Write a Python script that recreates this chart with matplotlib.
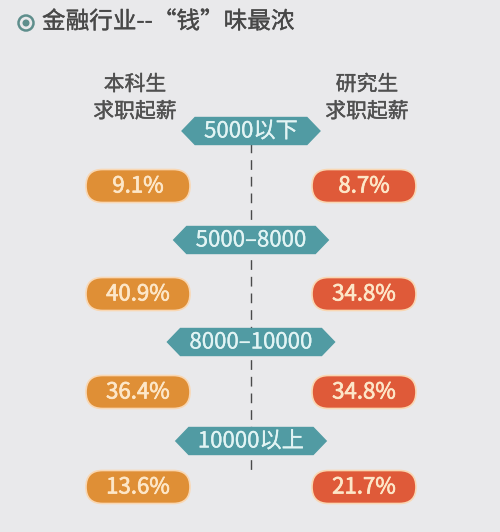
import numpy as np
import matplotlib
matplotlib.use("Agg")
import matplotlib.pyplot as plt
import matplotlib.patheffects as pe
from matplotlib.patches import FancyBboxPatch, Polygon, Circle

plt.rcParams['font.family'] = ['Noto Sans CJK SC', 'DejaVu Sans']

# data
title = "金融行业--“钱”味最浓"
left_header = "本科生\n求职起薪"
right_header = "研究生\n求职起薪"
ranges = ["5000以下", "5000–8000", "8000–10000", "10000以上"]
bachelor = [9.1, 40.9, 36.4, 13.6]
master = [8.7, 34.8, 34.8, 21.7]

# layout (pixels, y down)
W, H = 500, 532
tag_y = [131, 240, 342, 441]
pill_y = [186, 294, 392, 487]
left_x, right_x, mid_x = 138, 364, 251
pill_w, pill_h = 104, 33
tag_h, tip = 27, 13

bg = "#e9e9eb"
teal = "#519ba3"
orange = "#df8f36"
red = "#df5a39"
cream = "#fde7c9"


def bolder(col, w=0.3):
    return [pe.withStroke(linewidth=w, foreground=col)]


fig = plt.figure(figsize=(W / 100, H / 100), dpi=100, facecolor=bg)
ax = fig.add_axes([0, 0, 1, 1])
ax.set_xlim(0, W)
ax.set_ylim(H, 0)
ax.axis("off")
ax.set_facecolor(bg)

# title
ax.add_patch(Circle((26, 23), 7.5, fill=False, ec="#5e8e8c", lw=1.8))
ax.add_patch(Circle((26, 23), 2.8, color="#5e8e8c"))
ax.text(42, 22, title, fontsize=17, color="#484848", va="center", ha="left",
        path_effects=bolder("#484848", 0.25))

# headers
for hx, txt in [(135, left_header), (367, right_header)]:
    ax.text(hx, 98, txt, fontsize=15, color="#505050", ha="center", va="center",
            linespacing=1.3, path_effects=bolder("#505050", 0.25))

# dashed center line
ax.plot([mid_x, mid_x], [143, 470], color="#4a4a4a", lw=1.0,
        linestyle=(0, (7, 5)), zorder=1)

fig.canvas.draw()
renderer = fig.canvas.get_renderer()

for i, r in enumerate(ranges):
    t = ax.text(mid_x, tag_y[i], r, fontsize=16, color="#e2f4f4",
                ha="center", va="center", zorder=4, path_effects=bolder("#e2f4f4", 0.2))
    bb = t.get_window_extent(renderer)
    half = bb.width / 2 + 9 + tip
    x0, x1, yc = mid_x - half, mid_x + half, tag_y[i]
    hexagon = Polygon([(x0, yc), (x0 + tip, yc - tag_h / 2), (x1 - tip, yc - tag_h / 2),
                       (x1, yc), (x1 - tip, yc + tag_h / 2), (x0 + tip, yc + tag_h / 2)],
                      closed=True, color=teal, zorder=3)
    ax.add_patch(hexagon)

for vals, cx, col in [(bachelor, left_x, orange), (master, right_x, red)]:
    for i, v in enumerate(vals):
        pill = FancyBboxPatch((cx - pill_w / 2, pill_y[i] - pill_h / 2), pill_w, pill_h,
                              boxstyle="round,pad=0,rounding_size=16.5",
                              fc=col, ec="#f9d7b3", lw=1.2, zorder=3)
        ax.add_patch(pill)
        ax.text(cx, pill_y[i], f"{v}%", fontsize=16, color=cream,
                ha="center", va="center", zorder=4, path_effects=bolder(cream, 0.5))

fig.savefig("out.png", dpi=100, facecolor=bg)
